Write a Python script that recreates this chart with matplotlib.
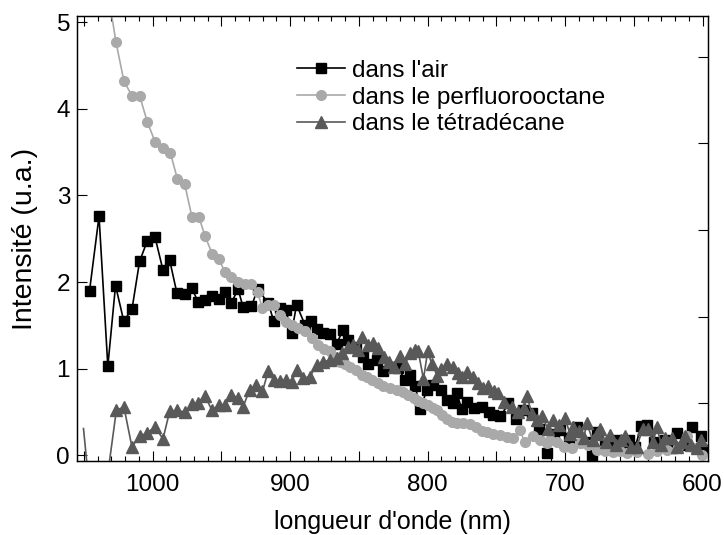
import matplotlib
matplotlib.use("Agg")
import matplotlib.pyplot as plt
import numpy as np

plt.rcParams['font.family'] = ['Liberation Sans', 'DejaVu Sans']

# dans l'air
air_wl = [1045.9, 1039.0, 1032.6, 1027.0, 1021.0, 1015.0, 1009.5, 1004.0, 998.3, 992.5,
          987.6, 982.3, 976.7, 971.4, 967.0, 962.1, 956.8, 951.9, 947.6, 942.7,
          937.9, 934.2, 928.1, 923.7, 916.0, 911.9, 907.5, 903.1, 899.0, 895.3,
          889.3, 884.5, 880.8, 876.0, 871.0, 866.2, 861.4, 857.8, 852.0, 846.8,
          843.2, 837.0, 832.5, 827.0, 821.3, 816.5, 812.8, 809.0, 805.5, 800.5,
          795.8, 790.5, 786.1, 781.3, 778.9, 775.2, 771.5, 766.0, 760.6, 755.5,
          752.1, 747.0, 741.2, 735.5, 730.3, 724.2, 719.0, 713.3, 708.0, 703.4,
          697.5, 691.3, 685.5, 680.4, 676.8, 671.0, 666.5, 662.2, 658.0, 653.8,
          649.0, 644.6, 640.4, 635.0, 631.0, 627.0, 622.5, 618.5, 613.0, 607.6,
          601.5, 599.0]
air_int = [1.90, 2.76, 1.03, 1.96, 1.55, 1.69, 2.24, 2.47, 2.52, 2.14,
           2.25, 1.87, 1.86, 1.93, 1.77, 1.79, 1.84, 1.81, 1.89, 1.76,
           1.92, 1.71, 1.72, 1.92, 1.76, 1.55, 1.70, 1.68, 1.41, 1.74,
           1.51, 1.55, 1.46, 1.41, 1.40, 1.29, 1.45, 1.33, 1.25, 1.14,
           1.06, 1.10, 0.97, 1.02, 1.01, 0.87, 0.93, 0.80, 0.54, 0.75,
           0.81, 0.76, 0.64, 0.60, 0.72, 0.54, 0.62, 0.55, 0.56, 0.50,
           0.47, 0.45, 0.60, 0.42, 0.52, 0.49, 0.30, 0.03, 0.25, 0.29,
           0.20, 0.33, 0.15, 0.01, 0.27, 0.12, 0.15, 0.18, 0.08, 0.18,
           0.10, 0.34, 0.35, 0.15, 0.12, 0.18, 0.08, 0.26, 0.12, 0.33,
           0.22, 0.06]

# dans le perfluorooctane
pfo_wl = [1032.0, 1026.7, 1020.9, 1015.1, 1009.5, 1003.9, 998.3, 992.5, 987.1, 982.0,
          976.7, 971.4, 966.3, 961.9, 956.5, 951.9, 947.6, 942.7, 937.9, 933.0,
          928.1, 923.7, 920.1, 916.0, 911.9, 907.5, 903.1, 899.0, 894.2, 889.3,
          884.4, 879.6, 875.0, 871.0, 867.0, 863.8, 860.0, 856.4, 852.0, 848.0,
          844.0, 840.7, 836.0, 832.2, 827.0, 822.5, 818.0, 814.0, 810.0, 806.8,
          803.0, 799.5, 796.0, 793.4, 789.5, 786.1, 782.0, 778.9, 774.0, 769.0,
          765.0, 760.6, 756.5, 752.1, 747.5, 742.5, 738.0, 733.0, 729.4, 723.3,
          718.0, 713.5, 711.0, 706.0, 700.5, 695.0, 689.0, 683.0, 677.0, 671.0,
          664.8, 660.0, 655.0, 648.0, 640.0, 633.0, 626.0, 618.0, 611.3, 606.0,
          600.4]
pfo_int = [5.30, 4.77, 4.32, 4.15, 4.15, 3.85, 3.62, 3.55, 3.49, 3.19,
           3.13, 2.75, 2.75, 2.53, 2.32, 2.27, 2.12, 2.06, 2.00, 1.98,
           1.98, 1.88, 1.70, 1.74, 1.74, 1.62, 1.54, 1.51, 1.47, 1.43,
           1.36, 1.27, 1.23, 1.20, 1.14, 1.08, 1.05, 1.02, 0.98, 0.93,
           0.90, 0.87, 0.84, 0.80, 0.78, 0.76, 0.73, 0.70, 0.66, 0.63,
           0.61, 0.58, 0.55, 0.52, 0.47, 0.42, 0.39, 0.37, 0.37, 0.36,
           0.33, 0.28, 0.27, 0.25, 0.24, 0.21, 0.20, 0.29, 0.16, 0.22,
           0.18, 0.14, 0.18, 0.16, 0.10, 0.08, 0.14, 0.12, 0.06, 0.05,
           0.04, 0.05, 0.03, 0.04, 0.02, 0.05, 0.06, 0.10, 0.22, 0.08,
           0.01]

# dans le tetradecane
tet_wl = [1050.3, 1041.0, 1026.4, 1020.9, 1015.1, 1009.5, 1003.9, 998.3, 992.5, 987.6,
          982.3, 976.7, 971.4, 967.0, 962.1, 956.8, 951.9, 947.6, 942.7, 937.9,
          934.2, 929.4, 924.5, 920.1, 916.0, 911.9, 907.5, 903.1, 899.0, 895.3,
          890.5, 885.6, 880.8, 876.0, 871.0, 866.0, 862.0, 858.0, 854.1, 850.5,
          848.0, 843.2, 839.5, 836.0, 832.0, 828.0, 824.5, 820.0, 816.5, 812.8,
          809.0, 806.8, 803.0, 800.0, 797.0, 793.0, 790.0, 786.1, 781.3, 778.0,
          775.2, 771.0, 767.0, 763.0, 759.4, 756.0, 752.0, 748.5, 744.5, 738.7,
          734.0, 730.0, 727.8, 724.0, 720.6, 716.5, 712.5, 708.6, 704.5, 700.0,
          696.5, 694.0, 690.0, 686.5, 684.2, 680.0, 677.0, 674.5, 670.5, 667.2,
          663.0, 659.5, 656.3, 652.0, 647.8, 643.5, 639.5, 636.0, 633.2, 630.0,
          627.0, 622.2, 618.5, 615.0, 612.5, 608.5, 604.0, 601.0]
tet_int = [0.31, -1.20, 0.52, 0.56, 0.10, 0.22, 0.26, 0.33, 0.19, 0.51,
           0.52, 0.50, 0.59, 0.61, 0.69, 0.52, 0.58, 0.58, 0.70, 0.66,
           0.56, 0.76, 0.81, 0.74, 0.97, 0.87, 0.86, 0.87, 0.85, 0.98,
           0.89, 0.91, 1.04, 1.08, 1.10, 1.12, 1.18, 1.25, 1.27, 1.22,
           1.37, 1.27, 1.30, 1.24, 1.14, 1.08, 1.02, 1.15, 1.05, 1.18,
           1.22, 1.20, 0.88, 1.20, 1.06, 0.92, 1.00, 1.06, 1.02, 0.95,
           0.91, 0.96, 0.90, 0.83, 0.78, 0.80, 0.74, 0.72, 0.62, 0.56,
           0.50, 0.55, 0.68, 0.48, 0.41, 0.45, 0.30, 0.41, 0.35, 0.43,
           0.25, 0.33, 0.28, 0.20, 0.37, 0.18, 0.25, 0.31, 0.15, 0.24,
           0.12, 0.18, 0.22, 0.10, 0.10, 0.31, 0.30, 0.15, 0.33, 0.12,
           0.20, 0.20, 0.10, 0.15, 0.22, 0.12, 0.08, 0.18]

labels = ["dans l'air", "dans le perfluorooctane", "dans le tétradécane"]

fig = plt.figure(figsize=(7.24, 5.35), dpi=100)
ax = fig.add_axes([0.1064, 0.1374, 0.8716, 0.8327])

ax.plot(air_wl, air_int, color='black', lw=1.2, marker='s', ms=7.5,
        mec='black', mfc='black', label=labels[0], zorder=3)
ax.plot(pfo_wl, pfo_int, color='#a9a9a9', lw=1.2, marker='o', ms=7,
        mec='#a9a9a9', mfc='#a9a9a9', label=labels[1], zorder=4)
ax.plot(tet_wl, tet_int, color='#595959', lw=1.2, marker='^', ms=8,
        mec='#595959', mfc='#595959', label=labels[2], zorder=5,
        markevery=list(range(2, len(tet_wl))))

ax.set_xlim(1055, 596)
ax.set_ylim(-0.07, 5.07)

ax.set_xticks(np.arange(600, 1051, 50))
ax.set_xticklabels([str(v) if v % 100 == 0 else '' for v in np.arange(600, 1051, 50)])
ax.set_xticks(np.arange(600, 1051, 10), minor=True)
ax.set_yticks([0, 1, 2, 3, 4, 5])

ax.tick_params(axis='both', which='major', direction='in', labelsize=17.5,
               top=True, right=False, length=7, width=0.8)
ax.tick_params(axis='x', which='minor', direction='in', top=True, length=3.5, width=0.8)
ax.tick_params(axis='x', which='major', pad=9)
ax.tick_params(axis='y', which='major', pad=5)

ax2 = ax.twinx()
ax2.set_ylim(-0.07, 5.07)
ax2.set_yticks([0.6, 1.6, 2.6, 3.6, 4.6])
ax2.set_yticklabels([])
ax2.tick_params(axis='y', direction='in', length=7, width=0.8)

for a in (ax, ax2):
    for s in a.spines.values():
        s.set_linewidth(0.9)

ax.set_xlabel("longueur d'onde (nm)", fontsize=18, labelpad=10)
ax.set_ylabel("Intensité (u.a.)", fontsize=20.5, labelpad=13)

leg = ax.legend(loc='upper left', bbox_to_anchor=(0.3487, 0.902), frameon=False,
                fontsize=17.5, handlelength=1.97, handletextpad=0.29,
                labelspacing=0.2, borderpad=0, borderaxespad=0)

fig.savefig('out.png', dpi=100)
